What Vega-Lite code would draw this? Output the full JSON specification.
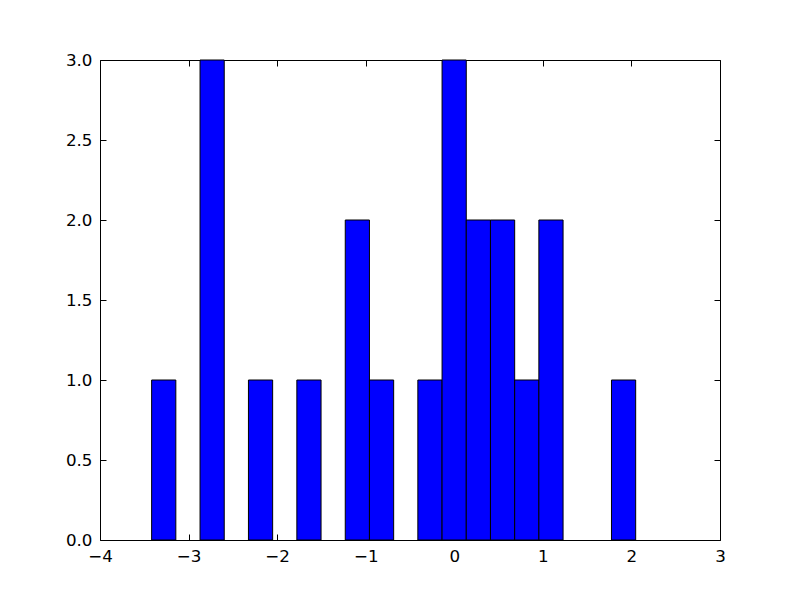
{
  "$schema": "https://vega.github.io/schema/vega-lite/v6.json",
  "width": 620,
  "height": 480,
  "autosize": "none",
  "padding": {"left": 100, "top": 60, "right": 80, "bottom": 60},
  "background": "white",
  "config": {
    "view": {"stroke": "black", "strokeWidth": 1},
    "axis": {
      "domain": false,
      "grid": false,
      "ticks": true,
      "tickColor": "black",
      "tickWidth": 1,
      "tickSize": -6,
      "labelFont": "DejaVu Sans",
      "labelFontSize": 16.7,
      "labelColor": "black",
      "title": null
    }
  },
  "data": {
    "values": [
      {"bin_start": -3.417, "bin_end": -3.1438, "count": 1},
      {"bin_start": -2.8705, "bin_end": -2.5973, "count": 3},
      {"bin_start": -2.324, "bin_end": -2.0508, "count": 1},
      {"bin_start": -1.7775, "bin_end": -1.5043, "count": 1},
      {"bin_start": -1.231, "bin_end": -0.9578, "count": 2},
      {"bin_start": -0.9578, "bin_end": -0.6845, "count": 1},
      {"bin_start": -0.4113, "bin_end": -0.138, "count": 1},
      {"bin_start": -0.138, "bin_end": 0.1353, "count": 3},
      {"bin_start": 0.1353, "bin_end": 0.4085, "count": 2},
      {"bin_start": 0.4085, "bin_end": 0.6818, "count": 2},
      {"bin_start": 0.6818, "bin_end": 0.955, "count": 1},
      {"bin_start": 0.955, "bin_end": 1.2283, "count": 2},
      {"bin_start": 1.7748, "bin_end": 2.048, "count": 1}
    ]
  },
  "layer": [
    {
      "mark": {"type": "bar", "fill": "#0000ff", "stroke": "black", "strokeWidth": 1},
      "encoding": {
        "x": {"field": "bin_start", "type": "quantitative",
              "scale": {"domain": [-4, 3], "nice": false, "zero": false, "padding": 0},
              "axis": {"orient": "bottom", "values": [-4, -3, -2, -1, 0, 1, 2, 3], "format": "d", "labelPadding": 14, "labelFlush": false}},
        "x2": {"field": "bin_end"},
        "y": {"field": "count", "type": "quantitative",
              "scale": {"domain": [0, 3], "nice": false, "padding": 0},
              "axis": {"orient": "left", "values": [0, 0.5, 1, 1.5, 2, 2.5, 3], "format": ".1f", "labelPadding": 14, "labelFlush": false}},
        "y2": {"datum": 0}
      }
    },
    {
      "mark": {"type": "bar", "fillOpacity": 0, "strokeOpacity": 0},
      "encoding": {
        "x": {"field": "bin_start", "type": "quantitative",
              "scale": {"domain": [-4, 3], "nice": false, "zero": false, "padding": 0},
              "axis": {"orient": "top", "values": [-4, -3, -2, -1, 0, 1, 2, 3], "labels": false}},
        "x2": {"field": "bin_end"},
        "y": {"field": "count", "type": "quantitative",
              "scale": {"domain": [0, 3], "nice": false, "padding": 0},
              "axis": {"orient": "right", "values": [0, 0.5, 1, 1.5, 2, 2.5, 3], "labels": false}},
        "y2": {"datum": 0}
      }
    }
  ],
  "resolve": {"scale": {"x": "independent", "y": "independent"}}
}
